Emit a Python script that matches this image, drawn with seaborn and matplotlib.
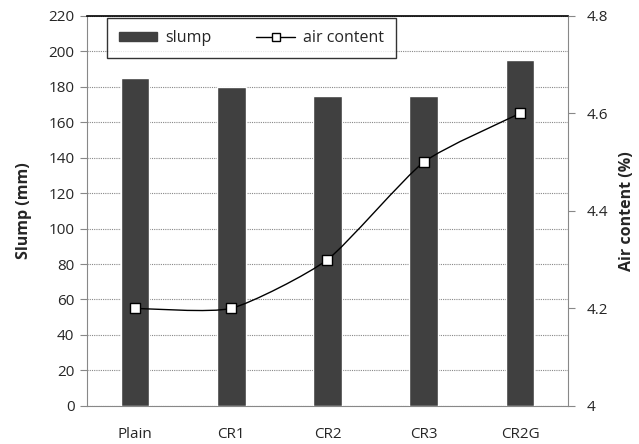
import numpy as np
import pandas as pd
import seaborn as sns
import matplotlib.pyplot as plt
from matplotlib.path import Path
from matplotlib.patches import PathPatch
from matplotlib.lines import Line2D
from matplotlib.patches import Patch

# данные
mixes = ["Plain", "CR1", "CR2", "CR3", "CR2G"]
slump = [185, 180, 175, 175, 195]
air_content = [4.2, 4.2, 4.3, 4.5, 4.6]

sns.set_style("white")
plt.rcParams['font.family'] = ['Open Sans', 'DejaVu Sans']

fig = plt.figure(figsize=(6.39, 4.44), dpi=100)
ax = fig.add_axes([0.136, 0.086, 0.753, 0.878])

df = pd.DataFrame({"mix": mixes, "slump": slump})
sns.barplot(data=df, x="mix", y="slump", color="#404040", width=0.3,
            saturation=1, ax=ax, zorder=3)
ax.set_ylim(0, 220)
ax.set_xlim(-0.5, len(mixes) - 0.5)
ax.set_yticks(range(0, 221, 20))
ax.yaxis.grid(True, linestyle=(0, (1, 1)), color="#888888", linewidth=0.8, zorder=0)
ax.set_axisbelow(True)
ax.set_xlabel("")
ax.set_ylabel("Slump (mm)", fontsize=11.5, fontweight="bold", labelpad=12)
# деления между категориями как в Excel
ax.set_xticks(np.arange(-0.5, len(mixes), 1.0))
ax.set_xticklabels([])
ax.set_xticks(range(len(mixes)), minor=True)
ax.set_xticklabels(mixes, minor=True, fontsize=11)
ax.tick_params(axis="x", which="major", direction="out", length=5, color="#888888")
ax.tick_params(axis="x", which="minor", length=0, pad=15)
ax.tick_params(axis="y", direction="out", length=5, color="#888888", labelsize=11, pad=4)
for s in ax.spines.values():
    s.set_color("#888888")
    s.set_linewidth(0.8)
ax.spines["top"].set_color("black")
ax.spines["top"].set_linewidth(1.2)

ax2 = ax.twinx()
ax2.set_ylim(4.0, 4.8)
ax2.set_yticks([4.0, 4.2, 4.4, 4.6, 4.8])
ax2.set_yticklabels(["4", "4.2", "4.4", "4.6", "4.8"])
ax2.tick_params(axis="y", direction="out", length=5, color="#888888", labelsize=11, pad=8)
ax2.set_ylabel("Air content (%)", fontsize=11.5, fontweight="bold", labelpad=8)
for s in ax2.spines.values():
    s.set_visible(False)

# сглаженная линия (как в Excel)
xs = np.arange(len(mixes), dtype=float)
ys = np.array(air_content)
verts = [(xs[0], ys[0])]
codes = [Path.MOVETO]
t = 0.1
for i in range(len(xs) - 1):
    p0 = (xs[max(i - 1, 0)], ys[max(i - 1, 0)])
    p1 = (xs[i], ys[i])
    p2 = (xs[i + 1], ys[i + 1])
    p3 = (xs[min(i + 2, len(xs) - 1)], ys[min(i + 2, len(xs) - 1)])
    c1 = (p1[0] + (p2[0] - p0[0]) * t, p1[1] + (p2[1] - p0[1]) * t)
    c2 = (p2[0] - (p3[0] - p1[0]) * t, p2[1] - (p3[1] - p1[1]) * t)
    verts += [c1, c2, p2]
    codes += [Path.CURVE4] * 3
ax2.add_patch(PathPatch(Path(verts, codes), fill=False, edgecolor="black",
                        linewidth=1.0, zorder=4))
sns.scatterplot(x=xs, y=ys, marker="s", s=45, color="white", edgecolor="black",
                linewidth=1.0, ax=ax2, zorder=5)

handles = [Patch(color="#404040"),
           Line2D([], [], color="black", lw=1.0, marker="s", markersize=6,
                  markerfacecolor="white", markeredgecolor="black")]
leg = ax.legend(handles, ["slump", "air content"], loc="upper left",
                bbox_to_anchor=(0.042, 0.995), ncol=2, fontsize=11.5,
                frameon=True, fancybox=False, edgecolor="black",
                handlelength=2.4, handleheight=0.45, columnspacing=2.8,
                handletextpad=0.5, borderpad=0.75, borderaxespad=0)
leg.get_frame().set_linewidth(1.0)
leg.set_zorder(10)

fig.savefig("out.png", dpi=100)
